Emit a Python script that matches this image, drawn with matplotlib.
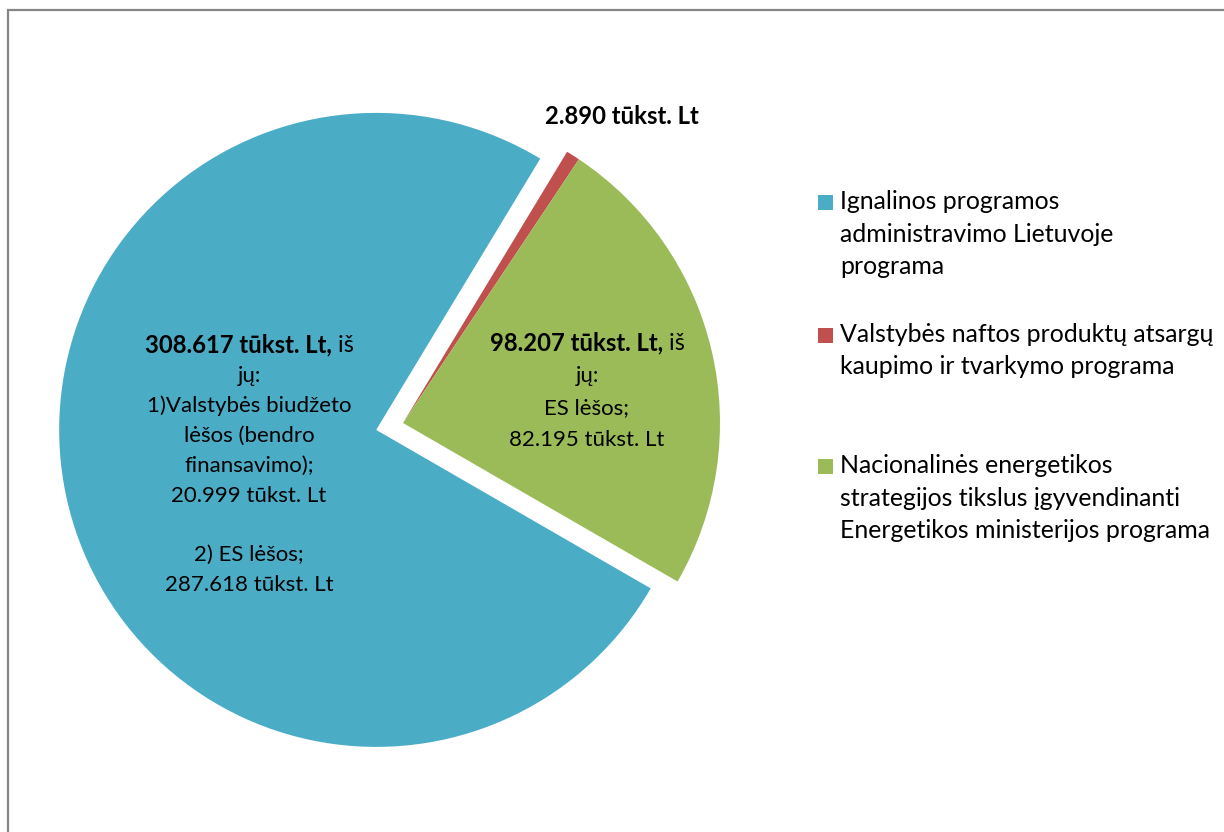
import matplotlib
matplotlib.use('Agg')
import matplotlib.pyplot as plt
from matplotlib.patches import Rectangle

plt.rcParams['font.family'] = ['Lato', 'DejaVu Sans']

# lėšos, tūkst. Lt
programs = ['Ignalinos programos\nadministravimo Lietuvoje\nprograma',
            'Valstybės naftos produktų atsargų\nkaupimo ir tvarkymo programa',
            'Nacionalinės energetikos\nstrategijos tikslus įgyvendinanti\nEnergetikos ministerijos programa']
values = [308617, 2890, 98207]
colors = ['#4BACC6', '#C0504D', '#9BBB59']

# ignalinos programos išskaidymas
ign_budget = 20999
ign_es = 287618
# energetikos programos ES lėšos
energ_es = 82195


def lt(v):
    return f'{v:,}'.replace(',', '.') + ' tūkst. Lt'


W, H = 1224, 832
fig = plt.figure(figsize=(W / 100, H / 100), dpi=100)
ax = fig.add_axes([0, 0, 1, 1])

R = 317
ax.pie(values, colors=colors, startangle=-30, counterclock=False,
       radius=R, center=(403, H - 423), explode=[27.7, 0, 0],
       wedgeprops=dict(linewidth=0))
ax.set_xlim(0, W)
ax.set_ylim(0, H)
ax.axis('off')

# rėmelis
ax.plot([8, 8, W + 20], [-20, H - 10, H - 10], color='#868686', lw=1.6,
        clip_on=False, solid_joinstyle='miter')

fs_lab = 16
fs_bold = 17.2
fs_leg = 17.9
renderer = fig.canvas.get_renderer()


def label_block(cx, base, bold, rest, lines, step=29.9):
    y = H - base
    t1 = ax.text(0, y, bold, fontsize=fs_bold, fontweight='bold', va='baseline', ha='left')
    t2 = ax.text(0, y, rest, fontsize=fs_bold - 0.4, va='baseline', ha='left')
    w1 = t1.get_window_extent(renderer).width
    w2 = t2.get_window_extent(renderer).width if rest else 0
    x0 = cx - (w1 + w2) / 2
    t1.set_x(x0)
    t2.set_x(x0 + w1)
    for i, line in enumerate(lines, start=1):
        ax.text(cx, H - (base + i * step), line, fontsize=fs_lab,
                va='baseline', ha='center')


label_block(249, 352, lt(values[0]) + ',', ' iš',
            ['jų:', '1)Valstybės biudžeto', 'lėšos (bendro', 'finansavimo);',
             lt(ign_budget), '', '2) ES lėšos;', lt(ign_es)])
label_block(587, 350, lt(values[2]) + ',', ' iš',
            ['jų:', 'ES lėšos;', lt(energ_es)], step=32)
label_block(622, 124, lt(values[1]), '', [])

# legenda
first_base = [209, 342, 473]
for name, col, yb in zip(programs, colors, first_base):
    ax.add_patch(Rectangle((818, H - (yb + 1)), 15, 15, color=col, lw=0))
    for i, line in enumerate(name.split('\n')):
        ax.text(840, H - (yb + i * 32.5), line, fontsize=fs_leg,
                va='baseline', ha='left')

fig.savefig('out.png', dpi=100)
